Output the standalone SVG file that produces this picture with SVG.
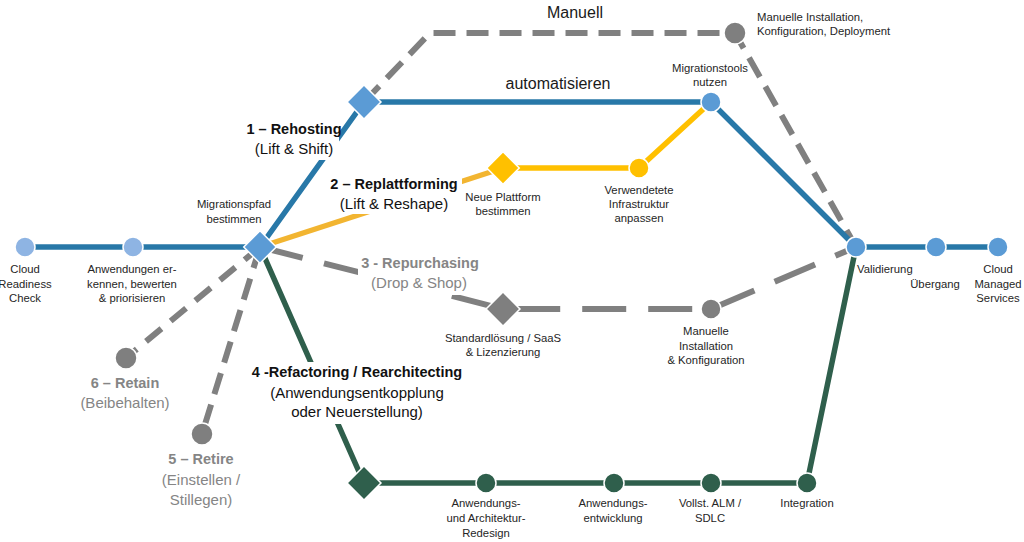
<svg xmlns="http://www.w3.org/2000/svg" width="1024" height="542" viewBox="0 0 1024 542">
<style>
text{font-family:"Liberation Sans",Arial,sans-serif}
.s{font-size:11.3px;fill:#262626}
.m{font-size:16px;fill:#1a1a1a}
.tb{font-size:14.5px;font-weight:bold;fill:#111}
.tr{font-size:15px;fill:#111}
.gb{font-size:14.5px;font-weight:bold;fill:#858585}
.gr{font-size:15px;fill:#858585}
.bg{fill:#fff}
.blue{fill:none;stroke:#2878a8;stroke-width:5.5}
.yel{fill:none;stroke:#ffc000;stroke-width:5.5}
.org{fill:none;stroke:#f2b531;stroke-width:5.5}
.grn{fill:none;stroke:#2f5f4c;stroke-width:5.5}
.gd1{fill:none;stroke:#808080;stroke-width:6;stroke-dasharray:22 11}
.gd2{fill:none;stroke:#808080;stroke-width:6;stroke-dasharray:44 22}
.gd3{fill:none;stroke:#808080;stroke-width:6;stroke-dasharray:20 12}
.nb{fill:#5b9bd5;stroke:#fff;stroke-width:1.5}
.nl{fill:#8eb4e3;stroke:#fff;stroke-width:1.5}
.ny{fill:#ffc000;stroke:#fff;stroke-width:1.5}
.ng{fill:#2f5f4c;stroke:#fff;stroke-width:1.5}
.nk{fill:#7f7f7f;stroke:#fff;stroke-width:1.5}
</style>
<g id="connectors">
<path class="gd1" d="M364,102 L430,33 L735,33 L856,247"/>
<path class="gd2" d="M260,247 L503,309 L711,309 L856,247"/>
<path class="gd3" d="M260,247 L126,358"/>
<path class="gd1" d="M260,247 L202,434"/>
<path class="blue" d="M25,247 L260,247"/>
<path class="blue" d="M260,247 L364,102 L711,102 L856,247"/>
<path class="blue" d="M856,247 L998,247"/>
<path class="org" d="M260,247 L503,168"/>
<path class="yel" d="M503,168 L639,168 L711,102"/>
<path class="grn" d="M260,247 L364,483 L807,483 L856,247"/>
</g>
<g id="label-rehosting">
<rect class="bg" x="240" y="118" width="99" height="42"/>
<text class="tb" x="294" y="134" text-anchor="middle">1 – Rehosting</text>
<text class="tr" x="294" y="154" text-anchor="middle">(Lift &amp; Shift)</text>
</g>
<g id="label-replattforming">
<rect class="bg" x="330" y="174" width="132" height="40"/>
<text class="tb" x="394" y="189" text-anchor="middle">2 – Replattforming</text>
<text class="tr" x="394" y="209" text-anchor="middle">(Lift &amp; Reshape)</text>
</g>
<g id="label-repurchasing">
<rect class="bg" x="358" y="254" width="122" height="41"/>
<text class="gb" x="420" y="268" text-anchor="middle">3 - Repurchasing</text>
<text class="gr" x="419" y="288" text-anchor="middle">(Drop &amp; Shop)</text>
</g>
<g id="label-refactoring">
<rect class="bg" x="246" y="362" width="222" height="62"/>
<text class="tb" x="357" y="377" text-anchor="middle">4 -Refactoring / Rearchitecting</text>
<text class="tr" x="357" y="398" text-anchor="middle">(Anwendungsentkopplung</text>
<text class="tr" x="357" y="417" text-anchor="middle">oder Neuerstellung)</text>
</g>
<g id="label-retain">
<text class="gb" x="125" y="388" text-anchor="middle">6 – Retain</text>
<text class="gr" x="125" y="408" text-anchor="middle">(Beibehalten)</text>
</g>
<g id="label-retire">
<text class="gb" x="201" y="464" text-anchor="middle">5 – Retire</text>
<text class="gr" x="201" y="485" text-anchor="middle">(Einstellen /</text>
<text class="gr" x="201" y="505" text-anchor="middle">Stillegen)</text>
</g>
<g id="label-manuell"><text class="m" x="575" y="18" text-anchor="middle">Manuell</text></g>
<g id="label-automatisieren"><text class="m" x="558" y="89" text-anchor="middle">automatisieren</text></g>
<g id="node-cloud-readiness">
<circle class="nl" cx="25" cy="247" r="10"/>
<text class="s" text-anchor="middle"><tspan x="25" y="273">Cloud</tspan><tspan x="25" y="288">Readiness</tspan><tspan x="25" y="302">Check</tspan></text>
</g>
<g id="node-anwendungen">
<circle class="nl" cx="133" cy="247" r="10"/>
<text class="s" text-anchor="middle"><tspan x="132" y="273">Anwendungen er-</tspan><tspan x="132" y="288">kennen, bewerten</tspan><tspan x="132" y="302">&amp; priorisieren</tspan></text>
</g>
<g id="node-migrationspfad">
<rect class="nb" x="248.5" y="235.5" width="23" height="23" transform="rotate(45 260 247)"/>
<text class="s" text-anchor="middle"><tspan x="234" y="208">Migrationspfad</tspan><tspan x="234" y="223">bestimmen</tspan></text>
</g>
<g id="node-rehost-diamond">
<rect class="nb" x="352" y="90" width="24" height="24" transform="rotate(45 364 102)"/>
</g>
<g id="node-manuelle-installation">
<circle class="nk" cx="735" cy="33" r="11"/>
<text class="s"><tspan x="757" y="21">Manuelle Installation,</tspan><tspan x="757" y="35">Konfiguration, Deployment</tspan></text>
</g>
<g id="node-migrationstools">
<circle class="nb" cx="711" cy="102" r="10"/>
<text class="s" text-anchor="middle"><tspan x="710" y="72">Migrationstools</tspan><tspan x="710" y="86">nutzen</tspan></text>
</g>
<g id="node-neue-plattform">
<rect class="ny" x="491.5" y="156.5" width="23" height="23" transform="rotate(45 503 168)"/>
<text class="s" text-anchor="middle"><tspan x="503" y="201">Neue Plattform</tspan><tspan x="503" y="215">bestimmen</tspan></text>
</g>
<g id="node-infrastruktur">
<circle class="ny" cx="639" cy="168" r="10"/>
<text class="s" text-anchor="middle"><tspan x="639" y="194">Verwendetete</tspan><tspan x="639" y="208">Infrastruktur</tspan><tspan x="639" y="222">anpassen</tspan></text>
</g>
<g id="node-standardloesung">
<rect class="nk" x="491" y="297" width="24" height="24" transform="rotate(45 503 309)"/>
<text class="s" text-anchor="middle"><tspan x="503" y="342">Standardlösung / SaaS</tspan><tspan x="503" y="356">&amp; Lizenzierung</tspan></text>
</g>
<g id="node-manuelle-konfiguration">
<circle class="nk" cx="711" cy="309" r="10"/>
<text class="s" text-anchor="middle"><tspan x="706" y="335">Manuelle</tspan><tspan x="706" y="350">Installation</tspan><tspan x="706" y="364">&amp; Konfiguration</tspan></text>
</g>
<g id="node-retain"><circle class="nk" cx="126" cy="358" r="11"/></g>
<g id="node-retire"><circle class="nk" cx="202" cy="434" r="11"/></g>
<g id="node-refactor-diamond">
<rect class="ng" x="352" y="471" width="24" height="24" transform="rotate(45 364 483)"/>
</g>
<g id="node-redesign">
<circle class="ng" cx="486" cy="483" r="10"/>
<text class="s" text-anchor="middle"><tspan x="486" y="507">Anwendungs-</tspan><tspan x="486" y="522">und Architektur-</tspan><tspan x="486" y="537">Redesign</tspan></text>
</g>
<g id="node-entwicklung">
<circle class="ng" cx="614" cy="483" r="10"/>
<text class="s" text-anchor="middle"><tspan x="613" y="507">Anwendungs-</tspan><tspan x="613" y="522">entwicklung</tspan></text>
</g>
<g id="node-alm">
<circle class="ng" cx="711" cy="483" r="10"/>
<text class="s" text-anchor="middle"><tspan x="710" y="507">Vollst. ALM /</tspan><tspan x="710" y="522">SDLC</tspan></text>
</g>
<g id="node-integration">
<circle class="ng" cx="807" cy="483" r="10"/>
<text class="s" x="807" y="507" text-anchor="middle">Integration</text>
</g>
<g id="node-validierung">
<circle class="nb" cx="856" cy="247" r="10"/>
<text class="s" x="857" y="273">Validierung</text>
</g>
<g id="node-uebergang">
<circle class="nb" cx="936" cy="247" r="10"/>
<text class="s" x="935" y="288" text-anchor="middle">Übergang</text>
</g>
<g id="node-cloud-managed">
<circle class="nb" cx="998" cy="247" r="10"/>
<text class="s" text-anchor="middle"><tspan x="998" y="273">Cloud</tspan><tspan x="998" y="288">Managed</tspan><tspan x="998" y="302">Services</tspan></text>
</g>
</svg>
